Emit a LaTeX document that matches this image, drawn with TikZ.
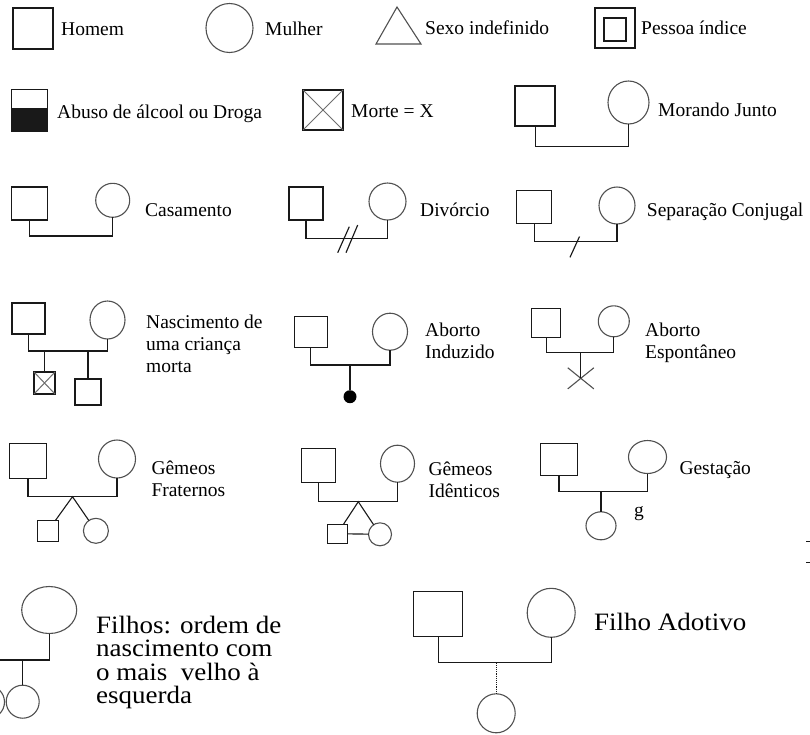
\documentclass[tikz,border=0pt]{standalone}
\usepackage{fontspec}
\setmainfont{Liberation Serif}
\newfontfamily\fontegrande[FakeStretch=1.08]{Liberation Serif}
\usetikzlibrary{shapes.geometric,shapes.misc,calc}
\definecolor{cortraco}{RGB}{25,25,25}
\definecolor{corcirculo}{RGB}{80,80,80}
\definecolor{corcruz}{RGB}{110,110,110}
\tikzset{
  tam/.style 2 args={minimum width=#1pt, minimum height=#2pt},
  homem/.style={draw=cortraco, rectangle, line width=1.1pt, inner sep=0pt, outer sep=0pt},
  mulher/.style={draw=corcirculo, ellipse, line width=1.1pt, inner sep=0pt, outer sep=0pt},
  linha/.style={draw=cortraco, line width=1.15pt},
  rotulo/.style={anchor=base west, inner sep=0pt, align=left, font=\fontsize{19.5}{21.8}\selectfont},
  rotulogrande/.style={anchor=base west, inner sep=0pt, align=left, font=\fontegrande\fontsize{25}{23.3}\selectfont}
}

\begin{document}
\begin{tikzpicture}[x=1pt,y=-1pt]
  \clip (0,0) rectangle (810,734);

  % linha 1
  \node [homem, tam={40}{41}] (hH) at (33,28.5) {};
  \node [rotulo] (tH) at (61,35) {Homem};
  \node [mulher, tam={47}{49}] (mM) at (229.5,28) {};
  \node [rotulo] (tM) at (265,35) {Mulher};
  \draw [line width=1.1pt, draw=corcirculo] (397,7) -- (421,44) -- (376,44) -- cycle;
  \node [rotulo] (tS) at (425,34) {Sexo indefinido};
  \node [homem, tam={40}{40}] (pI) at (615,28) {};
  \node [homem, tam={22}{23}] (pIi) at (615,29.5) {};
  \node [rotulo] (tP) at (641,34) {Pessoa índice};

  % linha 2
  \node [homem, tam={36}{42}] (ab) at (29.5,110.5) {};
  \fill [cortraco] ($(ab.north west)!0.45!(ab.south west)$) rectangle (ab.south east);
  \node [rotulo] (tAb) at (57,118) {Abuso de álcool ou Droga};
  \node [homem, tam={40}{40}] (mt) at (323,110) {};
  \draw [corcruz, line width=1pt] (mt.north west) -- (mt.south east) (mt.north east) -- (mt.south west);
  \node [rotulo] (tMt) at (351,117) {Morte = X};
  \node [homem, tam={40}{40}] (hMJ) at (535,106) {};
  \node [mulher, tam={41}{43}] (mMJ) at (628.5,102.5) {};
  \draw [linha, line width=1pt] (hMJ.south) |- (mMJ.south |- 0,146) -- (mMJ.south);
  \node [rotulo] (tMJ) at (658,116) {Morando Junto};

  % linha 3
  \node [homem, tam={36}{33}] (hC) at (29.5,203.5) {};
  \node [mulher, tam={34}{34}] (mC) at (112.7,200.3) {};
  \draw [linha] (hC.south) |- (mC.south |- 0,236) -- (mC.south);
  \node [rotulo] (tC) at (145,216.7) {Casamento};
  \node [homem, tam={34}{33}] (hD) at (306,203.5) {};
  \node [mulher, tam={37}{37}] (mD) at (387.5,201.5) {};
  \draw [linha] (hD.south) |- (mD.south |- 0,238.7) -- (mD.south);
  \draw [linha] (337.7,252.7) -- (349.3,226.7);
  \draw [linha] (346,252.7) -- (357.7,225);
  \node [rotulo] (tD) at (420,216.7) {Divórcio};
  \node [homem, tam={35}{33}] (hSp) at (534.2,207.3) {};
  \node [mulher, tam={36}{37}] (mSp) at (617,205.5) {};
  \draw [linha] (hSp.south) |- (mSp.south |- 0,241.7) -- (mSp.south);
  \draw [linha] (570,257.3) -- (579.5,236.5);
  \node [rotulo] (tSp) at (646.7,216.7) {Separação Conjugal};

  % linha 4
  \node [homem, tam={33}{31}] (hN) at (28.5,318.5) {};
  \node [mulher, tam={35}{38}] (mN) at (107.5,320) {};
  \draw [linha] (hN.south) |- (mN.south |- 0,351) -- (mN.south);
  \node [homem, tam={21}{22}] (xN) at (44.5,383) {};
  \draw [corcruz, line width=1pt] (xN.north west) -- (xN.south east) (xN.north east) -- (xN.south west);
  \node [homem, tam={26}{26}] (fN) at (88,392) {};
  \draw [linha] (xN.north |- 0,351) -- (xN.north);
  \draw [linha] (fN.north |- 0,351) -- (fN.north);
  \node [rotulo] (tN) at (146,372.3) {Nascimento de\\uma criança\\morta};

  \node [homem, tam={33}{31}] (hI) at (310.7,331.7) {};
  \node [mulher, tam={35}{37}] (mI) at (390,331.7) {};
  \draw [linha] (hI.south) |- (mI.south |- 0,365) -- (mI.south);
  \node [circle, fill=black, minimum size=13pt, inner sep=0pt] (dI) at (350,396.7) {};
  \draw [linha] (dI.center |- 0,365) -- (dI);
  \node [rotulo] (tI) at (425,358.3) {Aborto\\Induzido};

  \node [homem, tam={29}{29}] (hE) at (546.2,322.8) {};
  \node [mulher, tam={31}{31}] (mE) at (613.8,321.3) {};
  \draw [linha] (hE.south) |- (mE.south |- 0,352.3) -- (mE.south);
  \node [cross out, draw=corcirculo, line width=1.1pt, tam={25}{20}, inner sep=0pt] (xE) at (580.8,378.3) {};
  \draw [linha] (xE.center |- 0,352.3) -- (xE.center);
  \node [rotulo] (tE) at (645,358.3) {Aborto\\Espontâneo};

  % linha 5
  \node [homem, tam={37}{35}] (hF) at (28,460.8) {};
  \node [mulher, tam={37}{38}] (mF) at (117,459) {};
  \draw [linha] (hF.south) |- (mF.south |- 0,496.7) -- (mF.south);
  \coordinate (aF) at (72.5,496.7);
  \node [homem, tam={21}{21}] (gFS) at (47.6,531.3) {};
  \node [mulher, tam={25}{25}] (gFC) at (95.9,530.8) {};
  \draw [linha, line width=1.1pt] (gFS) -- (aF) -- (gFC);
  \node [rotulo] (tF) at (151.3,496.7) {Gêmeos\\Fraternos};

  \node [homem, tam={34}{34}] (hId) at (318.7,465.3) {};
  \node [mulher, tam={34}{37}] (mId) at (397.5,463.7) {};
  \draw [linha] (hId.south) |- (mId.south |- 0,501.7) -- (mId.south);
  \coordinate (aId) at (358.3,501.7);
  \node [homem, tam={20}{19}] (gIS) at (337.3,533.7) {};
  \node [mulher, tam={23}{23}] (gIC) at (380,534.3) {};
  \draw [linha, line width=1.1pt] (gIS) -- (aId) -- (gIC);
  \draw [linha] (gIS) -- (gIC);
  \node [rotulo] (tId) at (428.3,497.3) {Gêmeos\\Idênticos};

  \node [homem, tam={37}{32}] (hG) at (559,459.2) {};
  \node [mulher, tam={38}{33}] (mG) at (647.5,457) {};
  \draw [linha] (hG.south) |- (mG.south |- 0,491.7) -- (mG.south);
  \node [mulher, tam={30}{28}] (cG) at (601,525.8) {};
  \draw [linha] (cG.north |- 0,491.7) -- (cG.north);
  \node [rotulo] (gG) at (634,516.7) {g};
  \node [rotulo] (tG) at (679.3,474) {Gestação};

  \draw [linha, line width=1pt] (806,541.7) -- (810,541.7);
  \draw [linha, line width=1pt] (806,562.7) -- (810,562.7);

  % linha 6
  \node [mulher, tam={55}{47}] (mFi) at (49.2,610) {};
  \draw [linha] (mFi.south) |- (-20,660);
  \node [mulher, tam={33}{33}] (cF1) at (22.7,701.7) {};
  \node [mulher, tam={33}{33}] (cF0) at (-12,702) {};
  \draw [linha] (cF1.north |- 0,660) -- (cF1.north);
  \draw [linha] (cF0.north |- 0,660) -- (cF0.north);
  \node [rotulogrande] (tFi) at (96,703.3) {Filhos: ordem de\\nascimento com\\o mais\ \ velho à\\esquerda};

  \node [homem, tam={49}{45}] (hA) at (438.3,614.2) {};
  \node [mulher, tam={48}{49}] (mA) at (551.2,612.8) {};
  \draw [linha] (hA.south) |- (mA.south |- 0,662.7) -- (mA.south);
  \node [mulher, tam={38}{39}] (cA) at (496.2,713.3) {};
  \draw [linha, densely dotted, line width=0.9pt] (cA.north |- 0,662.7) -- (cA.north);
  \node [rotulogrande] (tA) at (594,630.7) {Filho Adotivo};
\end{tikzpicture}
\end{document}
